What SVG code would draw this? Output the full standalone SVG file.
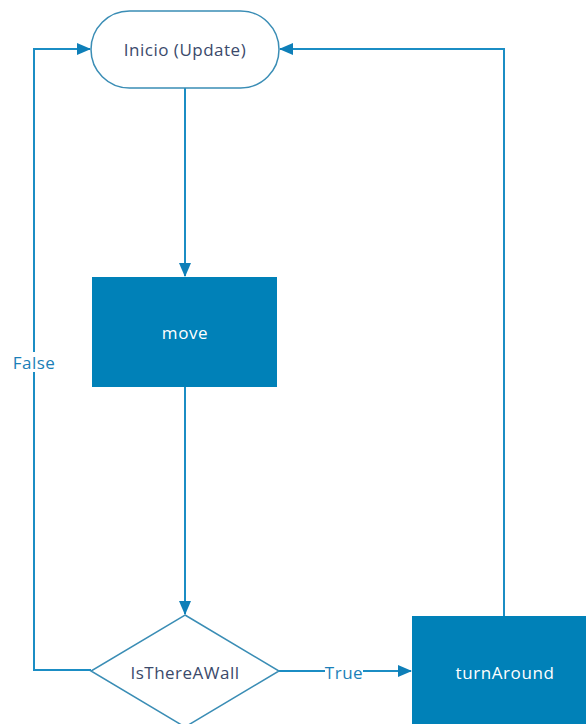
<svg xmlns="http://www.w3.org/2000/svg" width="586" height="724" viewBox="0 0 586 724">
<defs>
<style>
.ln{fill:none;stroke:#1b8dc4;stroke-width:2}
.lb{font-family:"Open Sans","Noto Sans",sans-serif;font-size:17px;letter-spacing:0.5px;fill:#1b7fb8;text-anchor:middle;dominant-baseline:central}
.tx{font-family:"Open Sans","Noto Sans",sans-serif;font-size:17px;letter-spacing:0.5px;fill:#3b4a6b;text-anchor:middle;dominant-baseline:central}
.wt{font-family:"Open Sans","Noto Sans",sans-serif;font-size:17px;letter-spacing:0.6px;fill:#ffffff;text-anchor:middle;dominant-baseline:central}
.sh{fill:#ffffff;stroke:#3a8db5;stroke-width:1.5}
.bx{fill:#0081b8}
</style>
<marker id="ar" markerWidth="14" markerHeight="12" refX="13" refY="6" orient="auto" markerUnits="userSpaceOnUse">
<path d="M0,0 L14,6 L0,12 Z" fill="#0e7fb8"/>
</marker>
</defs>
<rect width="586" height="724" fill="#ffffff"/>
<g id="connectors">
<path class="ln" d="M185,88 L185,276" marker-end="url(#ar)"/>
<path class="ln" d="M185,387 L185,614" marker-end="url(#ar)"/>
<path class="ln" d="M91,670 L34,670 L34,49 L90,49" marker-end="url(#ar)"/>
<path class="ln" d="M279,671 L411,671" marker-end="url(#ar)"/>
<path class="ln" d="M504,616 L504,49 L280,49" marker-end="url(#ar)"/>
<rect x="13" y="352" width="42" height="20" fill="#ffffff"/>
<text class="lb" x="34" y="362">False</text>
<rect x="325" y="662" width="38" height="20" fill="#ffffff"/>
<text class="lb" x="344" y="672">True</text>
</g>
<g id="inicio">
<rect class="sh" x="91" y="11" width="188" height="77" rx="38.5" ry="38.5"/>
<text class="tx" x="185" y="49">Inicio (Update)</text>
</g>
<g id="move">
<rect class="bx" x="92" y="277" width="185" height="110"/>
<text class="wt" x="185" y="332">move</text>
</g>
<g id="isThereAWall">
<polygon class="sh" points="185,615 279,671 185,727 91,671"/>
<text class="tx" x="185" y="672">IsThereAWall</text>
</g>
<g id="turnAround">
<rect class="bx" x="412" y="616" width="180" height="112"/>
<text class="wt" x="505" y="672">turnAround</text>
</g>
</svg>
